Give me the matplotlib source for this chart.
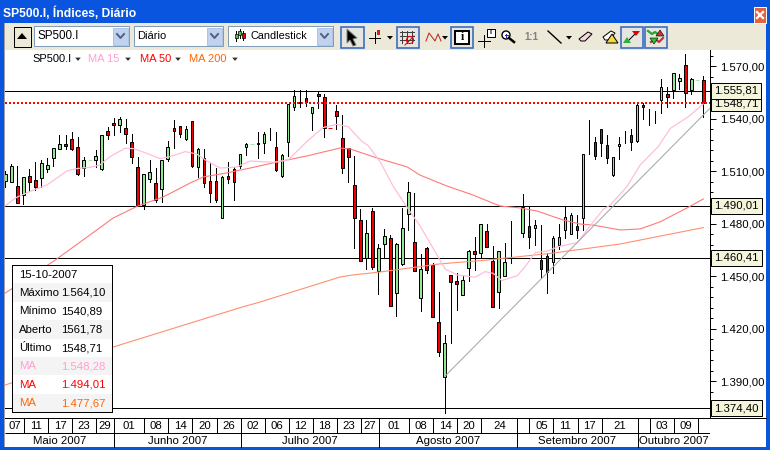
import numpy as np
import matplotlib
matplotlib.use('Agg')
import matplotlib.pyplot as plt
from matplotlib.patches import Rectangle, Polygon, Circle
from matplotlib.ticker import FuncFormatter

plt.rcParams['font.family'] = ['Liberation Sans', 'DejaVu Sans']

nan = float('nan')

opens = [1504.5, 1503.9, 1501.6, 1496.3, 1507.0, 1504.7, 1505.8, 1511.3, 1517.6, 1522.8,
         1525.2, 1528.1, 1523.5, 1511.7, 1516.1, 1516.5, 1511.0, 1532.7, 1537.2, 1536.5,
         1534.4, 1526.4, 1512.1, 1490.6, 1505.6, 1503.0, 1499.9, 1516.7, 1534.4, 1535.5,
         1528.1, 1538.4, 1512.5, 1517.6, 1504.1, 1504.1, 1483.0, 1507.0, 1511.0, 1512.9,
         1523.5, 1525.2, 1526.0, 1525.8, 1530.6, 1523.5, 1507.3, 1526.4, 1546.4, 1549.6,
         1551.5, 1543.0, 1554.0, 1552.1, 1534.5, 1544.1, 1528.7, 1523.3, 1501.8, 1481.8,
         1460.5, 1486.9, 1453.0, 1468.5, 1471.5, 1440.1, 1456.7, 1485.2, 1469.2, 1437.6,
         1465.8, 1456.3, 1423.5, 1392.1, 1450.4, 1447.2, 1439.0, 1454.4, 1464.1, 1463.0,
         1475.5, 1458.6, 1441.1, 1450.2, 1469.6, nan, 1474.4, 1478.6, 1477.6, 1459.2,
         1461.5, 1458.2, 1467.9, 1476.3, 1474.2, 1478.6, 1483.0, 1529.6, 1526.3, 1533.8,
         1524.6, 1507.5, 1524.4, 1529.2, 1530.3, 1527.1, 1547.7, 1542.0, 1541.0, 1550.5,
         1554.0, 1556.2, 1561.6, 1570.5, 1556.2, 1562.1, 1561.78]
closes = [1508.3, 1512.9, 1491.5, 1506.4, 1503.5, 1501.1, 1514.4, 1513.2, 1523.0, 1525.2,
          1524.5, 1522.4, 1508.1, 1516.1, 1516.2, 1518.4, 1530.4, 1530.8, 1536.5, 1539.5,
          1531.3, 1517.8, 1490.6, 1508.1, 1509.2, 1493.2, 1516.1, 1523.5, 1533.1, 1531.3,
          1533.8, 1513.1, 1522.6, 1503.0, 1497.6, 1493.2, 1506.4, 1505.6, 1503.5, 1519.5,
          1525.2, 1525.3, 1525.2, 1530.9, 1530.6, 1510.6, 1518.9, 1548.1, 1552.9, 1549.0,
          1549.6, 1546.4, 1553.0, 1534.4, 1534.4, 1541.6, 1511.5, 1518.2, 1482.9, 1458.7,
          1474.4, 1455.3, 1465.8, 1472.7, 1433.0, 1468.1, 1477.2, 1497.8, 1453.0, 1453.8,
          1453.3, 1426.8, 1406.8, 1411.5, 1446.4, 1445.6, 1447.5, 1464.3, 1462.8, 1479.5,
          1466.8, 1432.5, 1464.1, 1457.8, 1469.6, nan, 1489.6, 1472.5, 1479.2, 1453.8,
          1452.1, 1471.5, 1472.1, 1483.9, 1484.7, 1476.5, 1520.0, 1529.6, 1518.7, 1525.8,
          1517.6, 1517.8, 1525.6, 1529.2, 1526.7, 1547.7, 1546.7, 1542.0, 1541.0, 1558.0,
          1552.4, 1565.8, 1562.9, 1554.7, 1562.5, 1562.2, 1548.71]
highs = [1510.2, 1514.0, 1512.9, 1506.8, 1511.0, 1515.2, 1516.3, 1517.2, 1523.0, 1530.4,
         1530.6, 1532.5, 1529.4, 1518.0, 1516.2, 1521.8, 1530.4, 1535.3, 1540.1, 1540.7,
         1539.5, 1531.0, 1517.8, 1508.3, 1516.3, 1511.5, 1516.3, 1527.2, 1539.2, 1535.7,
         1535.7, 1538.6, 1523.0, 1522.4, 1514.4, 1511.5, 1507.2, 1515.0, 1512.5, 1519.5,
         1526.2, 1525.3, 1532.5, 1532.5, 1534.4, 1532.5, 1519.7, 1548.3, 1556.3, 1556.3,
         1556.3, 1546.8, 1555.7, 1554.0, 1534.5, 1547.7, 1542.0, 1523.3, 1518.6, 1488.3,
         1482.0, 1488.7, 1468.3, 1476.8, 1473.4, 1468.7, 1488.7, 1503.5, 1497.2, 1462.6,
         1466.4, 1457.3, 1440.7, 1416.3, 1450.4, 1451.5, 1450.0, 1464.9, 1472.5, 1479.5,
         1479.5, 1467.2, 1464.3, 1468.7, 1481.5, nan, 1496.9, 1489.6, 1482.0, 1479.2,
         1462.6, 1472.9, 1479.7, 1489.6, 1485.8, 1484.9, 1520.0, 1539.1, 1529.2, 1534.0,
         1530.5, 1518.1, 1529.2, 1532.8, 1533.8, 1548.6, 1548.6, 1545.2, 1544.2, 1562.5,
         1557.8, 1565.8, 1565.2, 1576.8, 1562.9, 1562.2, 1564.1]
lows = [1501.1, 1503.9, 1491.5, 1491.1, 1498.6, 1499.1, 1501.1, 1509.6, 1512.9, 1522.4,
        1522.4, 1522.0, 1507.7, 1507.2, 1516.1, 1512.5, 1510.6, 1528.3, 1530.6, 1532.3,
        1526.2, 1514.8, 1490.6, 1488.1, 1503.9, 1492.5, 1492.5, 1515.9, 1523.3, 1529.6,
        1527.7, 1512.5, 1506.8, 1500.7, 1492.5, 1492.5, 1483.0, 1503.3, 1493.4, 1511.5,
        1519.0, 1525.2, 1517.6, 1520.5, 1527.7, 1510.2, 1506.8, 1518.6, 1544.9, 1546.8,
        1547.1, 1533.4, 1546.2, 1529.6, 1534.4, 1534.0, 1509.0, 1503.9, 1466.2, 1458.7,
        1454.0, 1454.0, 1439.7, 1461.0, 1432.8, 1427.1, 1456.3, 1476.3, 1453.0, 1430.2,
        1451.9, 1426.4, 1404.5, 1371.5, 1411.5, 1430.6, 1439.0, 1447.4, 1453.4, 1461.1,
        1466.4, 1432.5, 1431.9, 1450.0, 1457.3, nan, 1472.5, 1466.2, 1467.7, 1449.1,
        1440.5, 1451.9, 1465.5, 1471.5, 1473.8, 1471.9, 1476.3, 1519.7, 1516.8, 1518.5,
        1514.3, 1507.1, 1517.0, 1525.8, 1521.9, 1526.7, 1540.0, 1536.2, 1537.6, 1542.9,
        1546.7, 1551.9, 1556.6, 1546.7, 1554.0, 1562.1, 1540.89]

ma15_x = [0, 1.9, 4.65, 6.9, 8.5, 10.2, 12.1, 14.1, 15.7, 17.4, 19.9, 21.3, 23.5, 25.7, 27.4, 29.9,
          31.8, 33.5, 35.7, 38.5, 40.7, 44.5, 47, 50.1, 52.8, 55.1, 57, 59.2, 60.3, 62.3, 64.5, 66.7,
          69, 71.1, 73.1, 75.1, 78.1, 79.7, 81.1, 82.5, 85.1, 86.6, 88.1, 90.1, 91.9, 95.1, 97.5, 99.4,
          100.5, 103.3, 105.5, 108.5, 110.5, 113.5, 116]
ma15_y = [1490.2, 1495.0, 1499.1, 1502.0, 1505.8, 1510.0, 1511.5, 1512.1, 1513.4, 1518.2, 1523.0, 1522.8,
          1520.1, 1517.1, 1518.2, 1521.1, 1519.7, 1515.7, 1511.7, 1512.3, 1515.7, 1515.0, 1516.3, 1526.8,
          1534.8, 1536.7, 1535.3, 1527.1, 1524.5, 1515.3, 1501.0, 1489.6, 1478.2, 1465.8, 1454.0, 1450.6,
          1449.3, 1452.5, 1451.5, 1447.4, 1450.2, 1456.3, 1463.4, 1464.3, 1466.8, 1469.1, 1480.1, 1488.1,
          1490.5, 1501.0, 1513.4, 1523.9, 1534.3, 1541.0, 1548.28]
ma50_x = [0, 8.3, 15.2, 17.9, 22.0, 26.2, 30.7, 32.9, 36.8, 40.7, 44.5, 50.1, 55.6, 57.3, 61.8, 66.8,
          68.9, 73.4, 77.7, 82.2, 85.5, 88.4, 92.7, 95.5, 97.7, 102.2, 105.5, 108.8, 113.3, 116]
ma50_y = [1440.3, 1459.1, 1476.3, 1483.1, 1490.0, 1495.1, 1503.1, 1506.6, 1508.9, 1511.7, 1514.6, 1518.6,
          1523.1, 1522.6, 1517.4, 1512.3, 1507.7, 1501.4, 1496.3, 1490.0, 1488.9, 1487.1, 1482.0, 1479.7,
          1479.1, 1476.3, 1476.9, 1480.9, 1488.9, 1494.01]
ma200_x = [0, 17.9, 39, 42.3, 55.6, 57.8, 62.3, 72.2, 80, 91, 102.2, 116]
ma200_y = [1387.7, 1409.4, 1431.9, 1435.1, 1449.4, 1450.6, 1452.3, 1456.9, 1459.1, 1463.1, 1468.3, 1477.67]

trend_x = [73, 117.1]
trend_y = [1392.5, 1545.8]

support_levels = [1555.81, 1490.01, 1460.41, 1374.40]
last_price = 1548.71
price_ticks = [1390, 1420, 1450, 1480, 1510, 1540, 1570]
price_minor = [1372, 1378, 1384, 1396, 1402, 1408, 1414, 1426, 1432, 1438, 1444, 1456, 1462, 1468, 1474,
               1486, 1492, 1498, 1504, 1516, 1522, 1528, 1534, 1546, 1552, 1558, 1564, 1576]

day_ticks = [3, 7, 11, 15, 18, 23, 27, 31, 35, 39, 43, 47, 51, 55, 59, 62, 67, 71, 75, 79, 85, 87, 91, 95, 99,
             105, 107, 111, 115]
day_labels = ['07', '11', '17', '23', '29', '01', '08', '14', '20', '26', '02', '06', '12', '18', '23', '27',
              '01', '08', '14', '20', '24', '', '05', '11', '17', '21', '', '03', '09', '']
month_ticks = [18, 39, 62, 85, 105]
month_labels = ['Maio 2007', 'Junho 2007', 'Julho 2007', 'Agosto 2007', 'Setembro 2007', 'Outubro 2007']

info_rows = [('15-10-2007', ''), ('Máximo', '1.564,10'), ('Mínimo', '1540,89'), ('Aberto', '1561,78'),
             ('Último', '1548,71'), ('MA', '1.548,28'), ('MA', '1.494,01'), ('MA', '1.477,67')]
info_colors = ['black', 'black', 'black', 'black', 'black', '#FFA0D0', '#FF0000', '#FF6600']

fig = plt.figure(figsize=(7.7, 4.5), dpi=100)
PX = 0.72  # one pixel in points
FS = 8.2

def pt_br(v):
    return f'{v:,.2f}'.replace(',', 'X').replace('.', ',').replace('X', '.')

# window chrome drawn in pixel coordinates
bg = fig.add_axes([0, 0, 1, 1])
bg.axis('off')
bg.add_patch(Rectangle((0, 0), 770, 450, fc='#0A55E0', ec='none'))
bar_rows = np.array([[[0.25, 0.55, 0.95]], [[0.05, 0.40, 0.92]], [[0.03, 0.33, 0.86]], [[0.03, 0.33, 0.86]],
                     [[0.04, 0.37, 0.90]], [[0.05, 0.40, 0.93]]])
bg.imshow(bar_rows, extent=(0, 770, 23, 0), aspect='auto', interpolation='bilinear', zorder=0.5)
bg.add_patch(Rectangle((4, 23), 762, 424, fc='white', ec='none', zorder=1))
bg.add_patch(Rectangle((3.5, 23), 1, 424, fc='#A0A0A0', ec='none', zorder=1))
bg.add_patch(Rectangle((5, 23), 761, 27, fc='#ECE9D8', ec='none', zorder=1))
bg.set_xlim(0, 770)
bg.set_ylim(450, 0)
bg.text(3, 13, 'SP500.I, Índices, Diário', color='white', fontsize=8.7, fontweight='bold', va='center', zorder=3)

# close button
bg.add_patch(Rectangle((754, 7), 12, 16, fc='#E8603C', ec='white', lw=PX, zorder=3))
bg.plot([757, 763], [12, 18], color='white', lw=1.6, zorder=4)
bg.plot([763, 757], [12, 18], color='white', lw=1.6, zorder=4)

# toolbar
def caret(x, y, size=3, color='black'):
    bg.add_patch(Polygon([(x - size, y - size / 2), (x + size, y - size / 2), (x, y + size / 2 + 0.5)],
                         fc=color, ec='none', zorder=4))

def combo(x0, x1, text, text_x, fs):
    bg.add_patch(Rectangle((x0, 26), x1 - x0, 20, fc='white', ec='#7F9DB9', lw=PX, zorder=3))
    bg.add_patch(Rectangle((x1 - 16, 27.5), 15, 17, fc='#C1D2EE', ec='#B0C4E8', lw=PX, zorder=3))
    bg.plot([x1 - 12, x1 - 8.5, x1 - 5], [34, 38, 34], color='#4D6185', lw=1.4, zorder=4)
    bg.text(text_x, 36, text, fontsize=fs, va='center', color='black', zorder=4)

def toggle(x0, x1):
    bg.add_patch(Rectangle((x0, 27), x1 - x0, 21, fc='#E6E6E0', ec='#3B6EC2', lw=1.2, zorder=3))

bg.add_patch(Rectangle((13.5, 27), 17, 20, fc='#ECE9D8', ec='black', lw=PX, zorder=3))
bg.add_patch(Polygon([(17, 39), (27, 39), (22, 33)], fc='black', ec='none', zorder=4))
combo(34, 129, 'SP500.I', 37, 8.4)
combo(134, 223, 'Diário', 137.5, 8.0)
combo(228, 333, 'Candlestick', 250.5, 7.8)
bg.plot([236, 236], [31, 41], color='black', lw=PX, zorder=4)
bg.add_patch(Rectangle((234.5, 34), 3, 4, fc='#50C050', ec='black', lw=0.5, zorder=5))
bg.plot([239.5, 239.5], [29, 38], color='black', lw=PX, zorder=4)
bg.add_patch(Rectangle((238, 31), 3, 4, fc='#50C050', ec='black', lw=0.5, zorder=5))
bg.plot([243, 243], [31, 40], color='black', lw=PX, zorder=4)
bg.add_patch(Rectangle((241.5, 33), 3, 5, fc='#E00000', ec='black', lw=0.5, zorder=5))

toggle(341, 364)
bg.add_patch(Polygon([(347, 29), (347, 43), (350, 40), (353, 46), (356, 45), (353, 39), (357, 38)],
                     fc='black', ec='#808080', lw=PX, zorder=4))
bg.plot([369, 380], [37.5, 37.5], color='black', lw=PX, zorder=4)
bg.plot([374.5, 374.5], [32, 43], color='black', lw=PX, zorder=4)
bg.add_patch(Rectangle((377, 30), 2.5, 5, fc='#D02020', ec='none', zorder=4))
caret(390, 37.5)
toggle(397, 419)
for gx in [402, 407, 412]:
    bg.plot([gx, gx], [31, 43], color='#404040', lw=PX, zorder=4)
for gy in [32, 36, 40]:
    bg.plot([400, 414], [gy, gy], color='#404040', lw=PX, zorder=4)
bg.add_patch(Circle((410, 40), 3.5, fc='none', ec='#E00000', lw=PX, zorder=5))
bg.plot([405, 414], [45, 36], color='#E00000', lw=PX, zorder=5)
bg.plot([426, 429, 432, 435, 438, 441], [41, 33, 37, 41, 34, 41], color='#C02020', lw=PX, zorder=4)
caret(445, 37.5)
toggle(451, 473)
bg.add_patch(Rectangle((455, 31), 14, 13, fc='white', ec='black', lw=1.4, zorder=4))
bg.text(462, 37.5, 'i', fontsize=8.5, fontweight='bold', family='Liberation Serif', ha='center', va='center', zorder=5)
bg.plot([478, 490], [41, 41], color='black', lw=PX, zorder=4)
bg.plot([484, 484], [35, 47], color='black', lw=PX, zorder=4)
bg.add_patch(Rectangle((487, 29), 8, 8, fc='white', ec='black', lw=PX, zorder=4))
bg.text(491, 33, 'i', fontsize=5, fontweight='bold', ha='center', va='center', zorder=5)
bg.add_patch(Circle((506, 35), 4, fc='white', ec='black', lw=1.0, zorder=4))
bg.plot([509, 514], [38, 42], color='black', lw=1.8, zorder=4)
bg.plot([504.5, 507.5], [35, 35], color='#2030C0', lw=PX, zorder=5)
bg.plot([506, 506], [33.5, 36.5], color='#2030C0', lw=PX, zorder=5)
bg.text(531, 37, '1:1', fontsize=7, fontweight='bold', color='#808080', ha='center', va='center', zorder=4)
bg.plot([548, 561], [31, 43], color='black', lw=1.0, zorder=4)
caret(569, 37.5)
bg.add_patch(Polygon([(579, 39), (588, 32), (592, 34), (585, 41), (581, 41)], fc='#F4D8E0', ec='black', lw=PX, zorder=4))
bg.add_patch(Polygon([(603, 37), (611, 31), (615, 33), (610, 40), (605, 40)], fc='white', ec='black', lw=PX, zorder=4))
bg.add_patch(Polygon([(606, 43), (612, 34), (618, 43)], fc='#F8D840', ec='black', lw=PX, zorder=5))
toggle(621, 643)
bg.plot([627, 636], [42, 33], color='black', lw=PX, zorder=4)
bg.add_patch(Polygon([(632, 31), (640, 31), (636, 36)], fc='#E00000', ec='none', zorder=5))
bg.add_patch(Polygon([(627, 37), (623, 43), (631, 43)], fc='#30B030', ec='none', zorder=5))
toggle(645, 667)
bg.plot([648, 652, 655, 659], [31, 34, 32, 35], color='#30A030', lw=1.6, zorder=4)
bg.plot([651, 655, 659, 663], [42, 39, 42, 38], color='#D03030', lw=1.6, zorder=4)
bg.add_patch(Polygon([(650, 38), (658, 38), (654, 44)], fc='#30C030', ec='black', lw=0.4, zorder=5))
bg.add_patch(Polygon([(656, 36), (664, 36), (660, 30)], fc='#D03030', ec='black', lw=0.4, zorder=5))

# price chart
x_left, x_right, y_top, y_bottom = 5, 710, 50, 418
ax = fig.add_axes([x_left / 770, 1 - y_bottom / 450, (x_right - x_left) / 770, (y_bottom - y_top) / 450])
ax.patch.set_alpha(0)
bar_px = 6.017
ax.set_xlim((x_left - 5.33) / bar_px, (x_right - 5.33) / bar_px)
ax.set_ylim(1570 - (y_bottom - 66) / 1.75, 1570 - (y_top - 66) / 1.75)
for side in ['top', 'left', 'bottom']:
    ax.spines[side].set_visible(False)
ax.spines['right'].set_linewidth(PX)
ax.set_xticks([])
ax.yaxis.tick_right()
ax.set_yticks(price_ticks)
ax.set_yticks(price_minor, minor=True)
ax.yaxis.set_major_formatter(FuncFormatter(lambda v, p: pt_br(v)))
ax.tick_params(axis='y', which='major', length=4, width=PX, pad=3, labelsize=FS)
ax.tick_params(axis='y', which='minor', length=2.2, width=PX)

for level in support_levels:
    ax.axhline(level, color='black', lw=PX, zorder=1)

xs = np.arange(len(opens))
o = np.array(opens)
c = np.array(closes)
h = np.array(highs)
l = np.array(lows)
ok = ~np.isnan(o)
flat = ok & (h - l < 0.5)
wicked = ok & ~flat
body = wicked & (o != c)
up = c >= o

ax.vlines(xs[wicked], l[wicked], h[wicked], color='black', lw=PX, zorder=2, antialiased=False)
body_w = 2.6 / bar_px
ax.bar(xs[body & up], (c - o)[body & up], bottom=o[body & up], width=body_w, color='#90E890',
       edgecolor='black', linewidth=PX, zorder=3)
ax.bar(xs[body & ~up], (o - c)[body & ~up], bottom=c[body & ~up], width=body_w, color='#F00000',
       edgecolor='black', linewidth=PX, zorder=3)
ax.hlines(c[flat & up], xs[flat & up] - 0.33, xs[flat & up] + 0.33, color='#A8E8A8', lw=PX, zorder=3)
ax.hlines(c[flat & ~up], xs[flat & ~up] - 0.33, xs[flat & ~up] + 0.33, color='#F00000', lw=PX, zorder=3)

ax.plot(ma200_x, ma200_y, color='#FF9070', lw=0.8, zorder=4)
ax.plot(ma50_x, ma50_y, color='#FF7A7A', lw=0.8, zorder=4)
ax.plot(ma15_x, ma15_y, color='#FFBEDC', lw=0.9, zorder=4)
ax.plot(trend_x, trend_y, color='#A8A8A8', lw=0.75, zorder=4)
ax.axhline(last_price, color='#FF0000', lw=1.44, linestyle=(0, (1, 1)), zorder=5)

def tag(level, zorder):
    ax.text(1.0055, level, pt_br(level), transform=ax.get_yaxis_transform(), fontsize=FS, va='center', ha='left',
            clip_on=False, zorder=zorder, bbox=dict(boxstyle='square,pad=0.28', fc='#F5F5DC', ec='black', lw=PX))

tag(last_price, 6)
tag(1555.81, 7)
tag(1490.01, 6)
tag(1460.41, 6)
tag(1374.40, 6)

# legend row
legend_items = [('SP500.I', 32, 'black', 78), ('MA 15', 88, '#FFA0D0', 128), ('MA 50', 140, '#FF0000', 178),
                ('MA 200', 189, '#FF6600', 235)]
for text, x_text, col, x_caret in legend_items:
    bg.text(x_text, 59, text, color=col, fontsize=8.0, va='center', zorder=6)
    caret(x_caret, 59, size=2.8, color='#303030')

# date axis
date_ax = fig.add_axes([x_left / 770, 1 - 448 / 450, (x_right - x_left) / 770, 30 / 450])
date_ax.patch.set_alpha(0)
date_ax.set_xlim(ax.get_xlim())
date_ax.set_ylim(2, 0)
date_ax.axis('off')
offset = 0.1
x0, x1 = date_ax.get_xlim()
day_edges = [x0] + [t + offset for t in day_ticks] + [x1]
month_edges = [x0] + [t + offset for t in month_ticks] + [x1]
date_ax.vlines([t + offset for t in day_ticks], 0, 1, color='black', lw=PX)
date_ax.vlines([t + offset for t in month_ticks], 1, 2, color='black', lw=PX)
date_ax.vlines([x1], 0, 2, color='black', lw=PX)
date_ax.hlines([1], x0, x1, color='black', lw=PX)
for lab, a, b in zip(day_labels, day_edges[:-1], day_edges[1:]):
    date_ax.text((a + b) / 2, 0.52, lab, ha='center', va='center', fontsize=FS)
for lab, a, b in zip(month_labels, month_edges[:-1], month_edges[1:]):
    date_ax.text((a + b) / 2, 1.5, lab, ha='center', va='center', fontsize=FS)
bg.plot([5, 766], [418, 418], color='black', lw=PX, zorder=2)

# info box, above the chart
ibox = fig.add_axes([12 / 770, 1 - 412 / 450, 100 / 770, 147 / 450], zorder=10)
ibox.set_xlim(0, 100)
ibox.set_ylim(len(info_rows), 0)
ibox.set_xticks([])
ibox.set_yticks([])
for spine in ibox.spines.values():
    spine.set_linewidth(PX)
for row, ((name, val), col) in enumerate(zip(info_rows, info_colors)):
    if row % 2 == 1:
        ibox.add_patch(Rectangle((0, row), 100, 1, fc='#F4F4F4', ec='none'))
    ibox.text(7, row + 0.52, name, color=col, fontsize=FS, va='center')
    ibox.text(49, row + 0.52, val, color=col, fontsize=FS, va='center')

fig.savefig('out.png', dpi=100)
